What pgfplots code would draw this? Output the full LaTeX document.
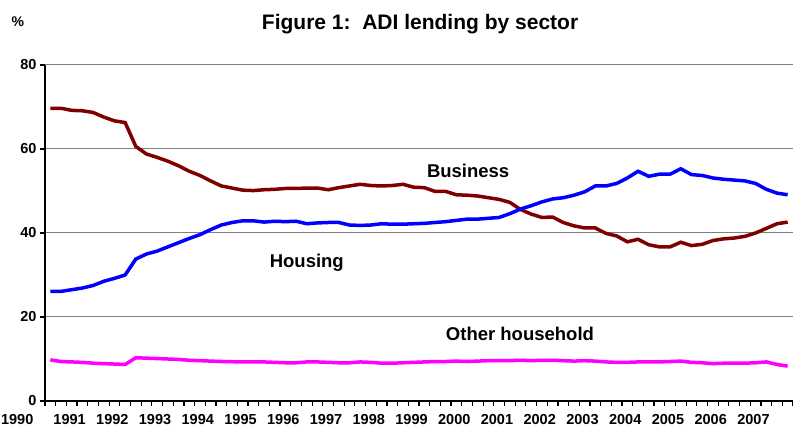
\documentclass[border=0pt]{standalone}
\usepackage{fontspec}
\setmainfont{Liberation Sans}
\usepackage{pgfplots}
\usepackage{pgfplotstable}
\pgfplotsset{compat=1.18}
\definecolor{bus}{RGB}{128,0,0}
\definecolor{hou}{RGB}{0,0,255}
\definecolor{oth}{RGB}{255,0,255}
\definecolor{gridc}{RGB}{128,128,128}
\tikzset{year/.style={font=\bfseries\fontsize{14.5}{17}\selectfont, anchor=north, yshift=-9.5pt}}
\pgfplotstableread{
x bus hou oth
0.5 69.7 26.1 9.8
1.5 69.7 26.1 9.4
2.5 69.2 26.5 9.3
3.5 69.1 26.9 9.2
4.5 68.7 27.5 9.0
5.5 67.6 28.5 8.9
6.5 66.7 29.2 8.8
7.5 66.3 30.0 8.7
8.5 60.6 33.8 10.3
9.5 58.8 35.0 10.2
10.5 58.0 35.7 10.1
11.5 57.1 36.7 10.0
12.5 56.0 37.7 9.9
13.5 54.7 38.7 9.7
14.5 53.7 39.6 9.6
15.5 52.4 40.8 9.5
16.5 51.2 41.9 9.4
17.5 50.7 42.5 9.35
18.5 50.2 42.9 9.3
19.5 50.1 42.9 9.3
20.5 50.3 42.6 9.3
21.5 50.4 42.8 9.2
22.5 50.6 42.7 9.1
23.5 50.6 42.8 9.1
24.5 50.7 42.2 9.3
25.5 50.7 42.4 9.3
26.5 50.3 42.5 9.2
27.5 50.8 42.5 9.1
28.5 51.2 41.9 9.1
29.5 51.6 41.8 9.3
30.5 51.3 41.9 9.2
31.5 51.2 42.2 9.0
32.5 51.3 42.1 9.0
33.5 51.6 42.1 9.1
34.5 50.9 42.2 9.2
35.5 50.8 42.3 9.3
36.5 49.9 42.5 9.4
37.5 49.9 42.7 9.4
38.5 49.1 43.0 9.5
39.5 49.0 43.3 9.4
40.5 48.8 43.3 9.5
41.5 48.4 43.5 9.6
42.5 48.0 43.7 9.6
43.5 47.3 44.6 9.6
44.5 45.6 45.7 9.7
45.5 44.5 46.5 9.6
46.5 43.7 47.4 9.7
47.5 43.8 48.1 9.7
48.5 42.5 48.4 9.6
49.5 41.7 49.0 9.5
50.5 41.2 49.8 9.6
51.5 41.2 51.2 9.5
52.5 39.9 51.2 9.3
53.5 39.3 51.8 9.2
54.5 37.9 53.1 9.2
55.5 38.5 54.7 9.3
56.5 37.2 53.5 9.3
57.5 36.7 54.0 9.3
58.5 36.7 54.0 9.4
59.5 37.8 55.3 9.5
60.5 37.0 53.9 9.2
61.5 37.3 53.7 9.1
62.5 38.2 53.1 8.9
63.5 38.6 52.8 9.0
64.5 38.8 52.6 9.0
65.5 39.2 52.4 9.0
66.5 40.0 51.8 9.1
67.5 41.1 50.4 9.3
68.5 42.2 49.5 8.7
69.5 42.6 49.1 8.3
}\datatable
\begin{document}
\begin{tikzpicture}
\useasboundingbox (-45pt,-35pt) rectangle (748pt,401pt);
\begin{axis}[
  at={(0,0)}, anchor=south west,
  scale only axis,
  width=748pt, height=336pt,
  xmin=0, xmax=70, ymin=0, ymax=80,
  axis x line*=bottom,
  axis y line*=left,
  axis line style={line width=1.2pt, black},
  tick align=outside,
  clip=false,
  ytick={0,20,40,60,80},
  xtick={0,1,...,70},
  xticklabel=\empty,
  major tick length=5pt,
  every tick/.style={line width=1.2pt, black},
  ymajorgrids,
  major grid style={line width=1pt, gridc},
  /pgf/number format/assume math mode=true,
  yticklabel style={font=\bfseries\fontsize{14.5}{17}\selectfont},
]
\addplot[bus, line width=3.5pt] table[x=x, y=bus] {\datatable};
\addplot[hou, line width=3.5pt] table[x=x, y=hou] {\datatable};
\addplot[oth, line width=3.5pt] table[x=x, y=oth] {\datatable};
\node[font=\bfseries\fontsize{18.5}{22}\selectfont] at (axis cs:39.6,54.8) {Business};
\node[font=\bfseries\fontsize{18.5}{22}\selectfont] at (axis cs:24.5,32.9) {Housing};
\node[font=\bfseries\fontsize{18.5}{22}\selectfont] at (axis cs:44.45,16.0) {Other household};
\node[font=\bfseries\fontsize{21}{25}\selectfont] at (axis cs:35.1,89.8) {Figure 1:\ \ ADI lending by sector};
\node[font=\bfseries\fontsize{14}{16}\selectfont] at (axis cs:-2.55,90.2) {\%};
\node[year] at (axis cs:-2.6,0) {1990};
\node[year] at (axis cs:2.3,0) {1991};
\node[year] at (axis cs:6.3,0) {1992};
\node[year] at (axis cs:10.3,0) {1993};
\node[year] at (axis cs:14.3,0) {1994};
\node[year] at (axis cs:18.3,0) {1995};
\node[year] at (axis cs:22.3,0) {1996};
\node[year] at (axis cs:26.3,0) {1997};
\node[year] at (axis cs:30.3,0) {1998};
\node[year] at (axis cs:34.3,0) {1999};
\node[year] at (axis cs:38.3,0) {2000};
\node[year] at (axis cs:42.3,0) {2001};
\node[year] at (axis cs:46.3,0) {2002};
\node[year] at (axis cs:50.3,0) {2003};
\node[year] at (axis cs:54.3,0) {2004};
\node[year] at (axis cs:58.3,0) {2005};
\node[year] at (axis cs:62.3,0) {2006};
\node[year] at (axis cs:66.3,0) {2007};
\end{axis}
\end{tikzpicture}
\end{document}
